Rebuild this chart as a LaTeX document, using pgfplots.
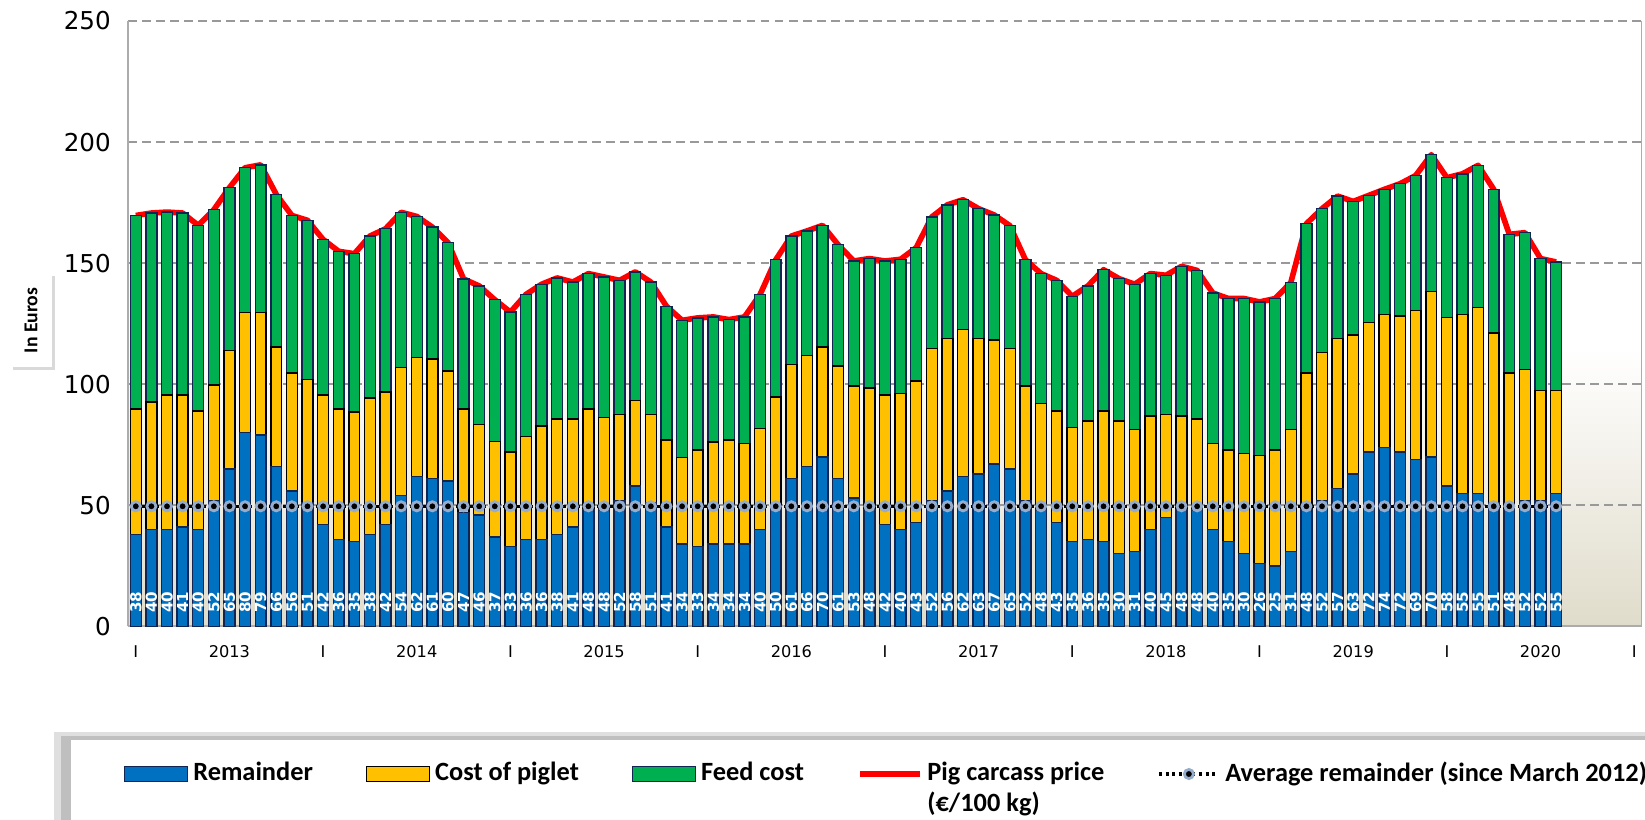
\documentclass[border=0pt]{standalone}
\usepackage{pgfplots}
\pgfplotsset{compat=1.18}
\usepackage{pgfplotstable}
\usepackage{fontspec}
\usetikzlibrary{shadows}
\newfontfamily\dejavu{DejaVu Sans}
\newfontfamily\carlito{Carlito}
\definecolor{remblue}{RGB}{0,112,192}
\definecolor{pigyellow}{RGB}{255,192,0}
\definecolor{feedgreen}{RGB}{0,176,80}
\definecolor{navyedge}{RGB}{16,37,84}
\definecolor{bgbeige}{RGB}{224,220,203}
\definecolor{ringblue}{RGB}{150,172,205}
% white in the upper part of the plot, fading to beige at the floor
\pgfdeclareverticalshading{floorshade}{100bp}{color(0bp)=(bgbeige); color(25bp)=(bgbeige);
  color(48bp)=(white); color(100bp)=(white)}

% month index, remainder, piglet, feed, carcass price, average remainder
\pgfplotstableread{
k r p f price avg
0 38 51.8 79.9 169.7 49.6
1 40 52.6 78.1 170.7 49.6
2 40 55.5 75.6 171.1 49.6
3 41 54.5 75.2 170.7 49.6
4 40 49.0 76.6 165.6 49.6
5 52 47.7 72.4 172.1 49.6
6 65 49.0 67.2 181.2 49.6
7 80 49.7 59.7 189.4 49.6
8 79 50.7 60.9 190.6 49.6
9 66 49.4 63.0 178.4 49.6
10 56 48.7 65.0 169.7 49.6
11 51 50.9 65.8 167.7 49.6
12 42 53.5 64.3 159.8 49.6
13 36 53.8 65.1 154.9 49.6
14 35 53.6 65.3 153.9 49.6
15 38 56.4 66.8 161.2 49.6
16 42 54.8 67.4 164.2 49.6
17 54 52.9 64.1 171.0 49.6
18 62 49.1 58.2 169.3 49.6
19 61 49.5 54.4 164.9 49.6
20 60 45.5 53.0 158.5 49.6
21 47 42.8 53.7 143.5 49.6
22 46 37.5 57.1 140.6 49.6
23 37 39.3 58.6 134.9 49.6
24 33 39.1 57.7 129.8 49.6
25 36 42.5 58.6 137.1 49.6
26 36 46.8 58.5 141.3 49.6
27 38 47.6 58.3 143.9 49.6
28 41 44.6 56.6 142.2 49.6
29 48 41.8 55.9 145.7 49.6
30 48 38.2 58.1 144.3 49.6
31 52 35.6 55.3 142.9 49.6
32 58 35.4 53.0 146.4 49.6
33 51 36.6 54.6 142.2 49.6
34 41 35.9 55.3 132.2 49.6
35 34 35.7 56.7 126.4 49.6
36 33 39.8 54.6 127.4 49.6
37 34 42.2 51.6 127.8 49.6
38 34 42.9 49.8 126.7 49.6
39 34 41.5 52.3 127.8 49.6
40 40 41.7 55.4 137.1 49.6
41 50 44.8 56.6 151.4 49.6
42 61 47.1 53.1 161.2 49.6
43 66 45.8 51.5 163.3 49.6
44 70 45.4 50.2 165.6 49.6
45 61 46.6 50.0 157.6 49.6
46 53 46.2 51.7 150.9 49.6
47 48 50.4 53.5 151.9 49.6
48 42 53.5 55.4 150.9 49.6
49 40 56.1 55.5 151.6 49.6
50 43 58.4 55.0 156.4 49.6
51 52 62.7 54.4 169.1 49.6
52 56 63.0 55.1 174.1 49.6
53 62 60.6 53.6 176.2 49.6
54 63 56.0 53.5 172.5 49.6
55 67 51.2 51.7 169.9 49.6
56 65 49.7 50.8 165.5 49.6
57 52 47.2 52.2 151.4 49.6
58 48 44.0 53.7 145.7 49.6
59 43 46.0 53.9 142.9 49.6
60 35 47.1 54.2 136.3 49.6
61 36 48.9 55.7 140.6 49.6
62 35 54.0 58.3 147.3 49.6
63 30 54.9 58.7 143.6 49.6
64 31 50.3 60.0 141.3 49.6
65 40 46.9 58.8 145.7 49.6
66 45 42.6 57.4 145.0 49.6
67 48 38.9 61.8 148.7 49.6
68 48 37.6 61.4 147.0 49.6
69 40 35.5 62.2 137.7 49.6
70 35 37.8 62.6 135.4 49.6
71 30 41.4 64.0 135.4 49.6
72 26 44.7 63.3 134.0 49.6
73 25 47.8 62.6 135.4 49.6
74 31 50.3 60.7 142.0 49.6
75 48 56.7 61.6 166.3 49.6
76 52 61.2 59.3 172.5 49.6
77 57 62.0 58.7 177.7 49.6
78 63 57.4 55.1 175.5 49.6
79 72 53.4 52.6 178.0 49.6
80 74 54.9 51.6 180.5 49.6
81 72 56.2 54.6 182.8 49.6
82 69 61.4 55.8 186.2 49.6
83 70 68.2 56.6 194.8 49.6
84 58 69.5 57.8 185.3 49.6
85 55 73.9 58.0 186.9 49.6
86 55 76.8 58.6 190.4 49.6
87 51 70.2 59.3 180.5 49.6
88 48 56.7 57.2 161.9 49.6
89 52 54.2 56.4 162.6 49.6
90 52 45.5 54.4 151.9 49.6
91 55 42.5 53.0 150.5 49.6
}\costs

\pgfplotsset{
  swatch legend/.style={legend image code/.code={%
    \draw[##1] (0cm,-0.075cm) rectangle (0.63cm,0.075cm);}},
}

\begin{document}
\begin{tikzpicture}
\useasboundingbox (-1.28,-1.926) rectangle (15.17,6.264);
% legend panel with its shadow
\fill[gray!25] (-0.74,-1.06) rectangle (16.6,-2.6);
\fill[gray!50] (-0.67,-1.10) rectangle (16.6,-2.6);
\fill[white] (-0.57,-1.136) rectangle (16.6,-2.6);
% y axis title in its box
\node[rotate=90, fill=white, inner sep=0pt, minimum width=0.94cm, minimum height=0.42cm,
  drop shadow={shadow xshift=0.03cm, shadow yshift=-0.03cm, opacity=0.3},
  font=\carlito\bfseries\fontsize{5.6}{6}\selectfont] at (-0.97,3.06) {In Euros};

\begin{axis}[
  scale only axis, width=15.14cm, height=6.054cm,
  xmin=-0.5, xmax=96.5, ymin=0, ymax=250,
  ybar stacked, bar width=0.7,
  axis lines*=left,
  axis line style={draw=gray!65, line width=0.6pt},
  axis background/.style={shading=floorshade},
  ytick={0,50,...,250},
  ymajorgrids,
  grid style={gray!80, line width=0.6pt, dash pattern=on 2.5pt off 1.5pt},
  major tick length=0pt,
  xtick={0,12,...,96},
  xticklabels={I,I,I,I,I,I,I,I,I},
  extra x ticks={6,18,30,42,54,66,78,90},
  extra x tick labels={2013,2014,2015,2016,2017,2018,2019,2020},
  extra x tick style={grid=none, major tick length=0pt},
  xticklabel style={font=\dejavu\fontsize{4.6}{5}\selectfont, anchor=base, yshift=-0.31cm},
  yticklabel style={font=\dejavu\fontsize{7}{8}\selectfont, xshift=-0.048cm},
  /pgf/number format/assume math mode=true,
  legend columns=5,
  legend cell align=left,
  legend style={draw=none, fill=none, inner sep=0pt, outer sep=0pt,
    at={(axis description cs:0,0)}, anchor=west,
    xshift=-0.04cm, yshift=-1.476cm,
    font=\carlito\bfseries\fontsize{7.5}{8.8}\selectfont,
    column sep=0pt,
    nodes={inner xsep=1.4pt, inner ysep=0pt},
    /tikz/every even column/.append style={column sep=0.48cm},
    /tikz/column 4/.append style={column sep=0.63cm},
    /tikz/column 8/.append style={column sep=0.45cm}},
]
\addplot[fill=remblue, draw=navyedge, line width=0.4pt, swatch legend]
  table[x=k, y=r] {\costs};
\addlegendentry{Remainder}
\addplot[fill=pigyellow, draw=black, line width=0.4pt, swatch legend]
  table[x=k, y=p] {\costs};
\addlegendentry{Cost of piglet}
\addplot[fill=feedgreen, draw=navyedge, line width=0.4pt, swatch legend]
  table[x=k, y=f] {\costs};
\addlegendentry{Feed cost}

\addplot[stack plots=false, sharp plot, draw=red, line width=1.6pt, line join=round,
  mark=none, line legend]
  table[x=k, y=price] {\costs};
\addlegendentry{\rlap{\smash{\raisebox{-8.8pt}{(€/100 kg)}}}Pig carcass price}

\addplot[stack plots=false, sharp plot, draw=black, densely dotted, line width=0.9pt,
  mark=*, mark size=1.3pt,
  mark options={solid, fill=black, draw=ringblue, line width=0.8pt}, line legend]
  table[x=k, y=avg] {\costs};
\addlegendentry{Average remainder (since March 2012)}

% remainder values written at the foot of each bar
\addplot[stack plots=false, draw=none, fill=none, forget plot,
  point meta=explicit,
  nodes near coords={\rotatebox{90}{\pgfmathprintnumber{\pgfplotspointmeta}}},
  every node near coord/.append style={font=\dejavu\bfseries\fontsize{4.3}{5}\selectfont,
    text=white, inner sep=0pt, anchor=south, yshift=0.13cm}]
  table[x=k, y expr=0, meta=r] {\costs};

\draw[gray!65, line width=0.6pt] (rel axis cs:1,0) -- (rel axis cs:1,1);
\end{axis}
\end{tikzpicture}
\end{document}
